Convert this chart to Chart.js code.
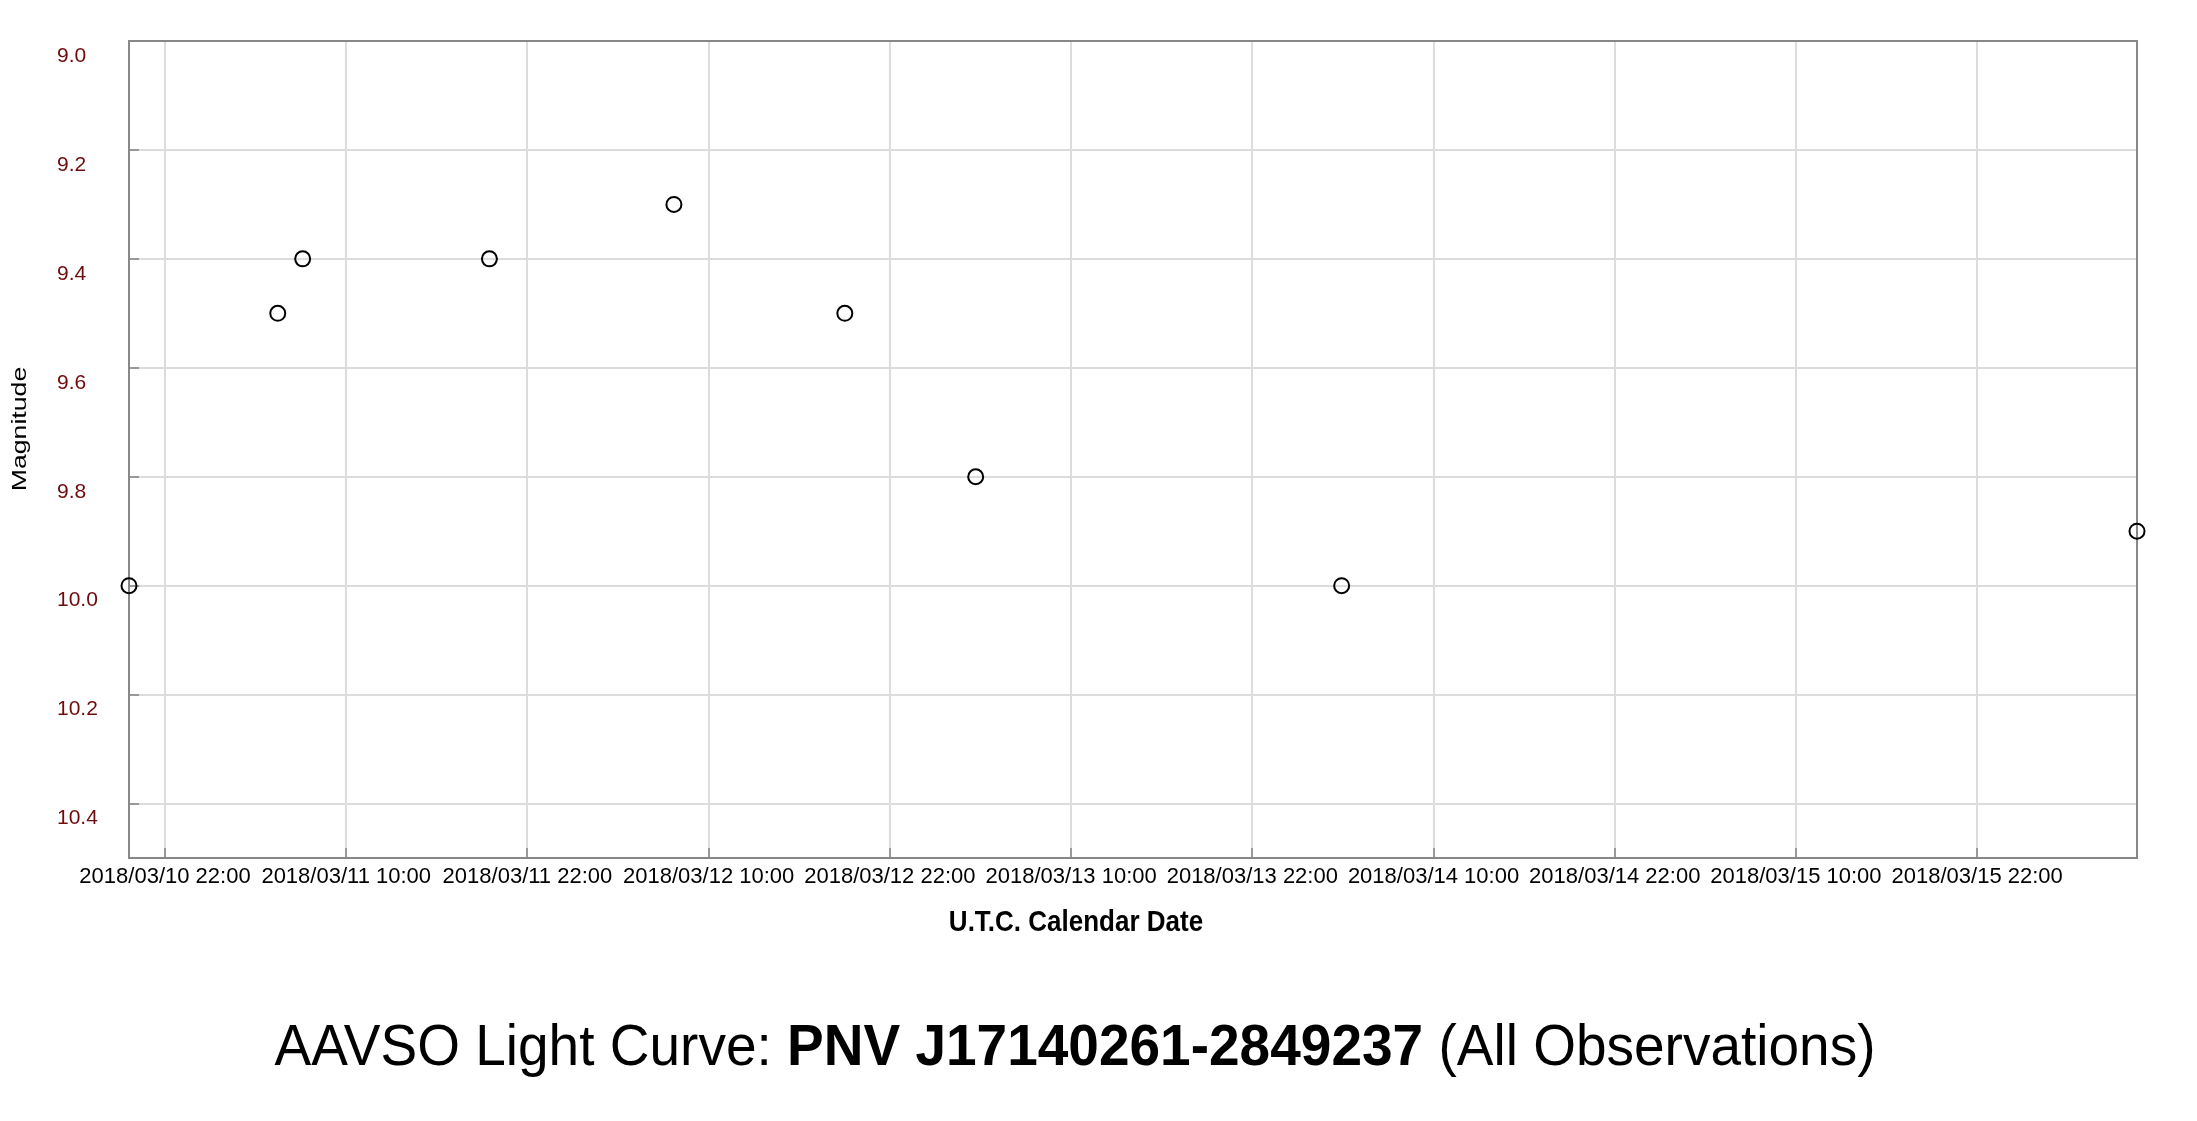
<!DOCTYPE html>
<html>
<head>
<meta charset="utf-8">
<title>AAVSO Light Curve</title>
<script src="https://cdn.jsdelivr.net/npm/chart.js@4.4.1/dist/chart.umd.min.js"></script>
<style>
  body { margin: 0; background: #fff; }
  #wrap { position: relative; width: 2197px; height: 1121px; }
</style>
</head>
<body>
<div id="wrap"><canvas id="myChart"></canvas></div>
<script>
var obsDates = [
  '2018-03-10T19:37:00Z',
  '2018-03-11T05:28:00Z',
  '2018-03-11T07:07:00Z',
  '2018-03-11T19:29:00Z',
  '2018-03-12T07:42:00Z',
  '2018-03-12T19:01:00Z',
  '2018-03-13T03:41:00Z',
  '2018-03-14T03:55:00Z',
  '2018-03-16T08:35:00Z'
];
var magnitudes = [10.0, 9.5, 9.4, 9.4, 9.3, 9.5, 9.8, 10.0, 9.9];

// tick positions
var xTickDates = [
  '2018-03-10T22:00:00Z', '2018-03-11T10:00:00Z', '2018-03-11T22:00:00Z',
  '2018-03-12T10:00:00Z', '2018-03-12T22:00:00Z', '2018-03-13T10:00:00Z',
  '2018-03-13T22:00:00Z', '2018-03-14T10:00:00Z', '2018-03-14T22:00:00Z',
  '2018-03-15T10:00:00Z', '2018-03-15T22:00:00Z'
];
var yTicks = [9.0, 9.2, 9.4, 9.6, 9.8, 10.0, 10.2, 10.4];

var starName = 'PNV J17140261-2849237';

function fmtDate(ms) { // 2018/03/10 22:00 style, in UTC
  var d = new Date(ms);
  function p(n) { return (n < 10 ? '0' : '') + n; }
  return d.getUTCFullYear() + '/' + p(d.getUTCMonth() + 1) + '/' + p(d.getUTCDate()) +
    ' ' + p(d.getUTCHours()) + ':' + p(d.getUTCMinutes());
}

var points = [];
for (var i = 0; i < obsDates.length; i++) {
  points.push({ x: Date.parse(obsDates[i]), y: magnitudes[i] });
}

var FONT = '"Liberation Sans", Arial, sans-serif';

var captions = {
  id: 'captions',
  beforeDatasetsDraw: function (chart) { // gray frame round the plot
    var a = chart.chartArea, ctx = chart.ctx;
    ctx.save();
    ctx.strokeStyle = '#888';
    ctx.lineWidth = 2;
    ctx.strokeRect(a.left, a.top, a.right - a.left, a.bottom - a.top);
    ctx.restore();
  },
  afterDraw: function (chart) {
    var ctx = chart.ctx;
    ctx.save();
    ctx.fillStyle = '#000';
    ctx.textBaseline = 'alphabetic';

    // y axis title (the original text is a bit stretched)
    ctx.save();
    ctx.translate(26, 429);
    ctx.rotate(-Math.PI / 2);
    ctx.scale(1.27, 1);
    ctx.font = '21px ' + FONT;
    ctx.textAlign = 'center';
    ctx.fillText('Magnitude', 0, 0);
    ctx.restore();

    // x axis title
    ctx.save();
    ctx.translate(1076, 931);
    ctx.scale(1, 1.15);
    ctx.font = 'bold 26px ' + FONT;
    ctx.textAlign = 'center';
    ctx.fillText('U.T.C. Calendar Date', 0, 0);
    ctx.restore();

    // main title, star name in bold
    var parts = [
      ['', 'AAVSO Light Curve: '],
      ['bold ', starName],
      ['', ' (All Observations)']
    ];
    var total = 0;
    parts.forEach(function (pt) {
      ctx.font = pt[0] + '55px ' + FONT;
      pt.push(ctx.measureText(pt[1]).width);
      total += pt[2];
    });
    var x = 1075 - total / 2;
    ctx.textAlign = 'left';
    parts.forEach(function (pt) {
      ctx.save();
      ctx.translate(x, 1065);
      ctx.scale(1, 1.06);
      ctx.font = pt[0] + '55px ' + FONT;
      ctx.fillText(pt[1], 0, 0);
      ctx.restore();
      x += pt[2];
    });
    ctx.restore();
  }
};

var ctx = document.getElementById('myChart').getContext('2d');
var myChart = new Chart(ctx, {
  type: 'scatter',
  data: {
    datasets: [{
      label: starName,
      data: points,
      pointStyle: 'circle',
      pointRadius: 7.5,
      pointHoverRadius: 7.5,
      pointBorderWidth: 2,
      borderColor: '#000',
      backgroundColor: 'rgba(0,0,0,0)',
      clip: false
    }]
  },
  options: {
    responsive: true,
    maintainAspectRatio: false,
    animation: false,
    layout: { padding: { left: 57, right: 60, top: 41, bottom: 223 } },
    plugins: {
      legend: { display: false },
      tooltip: { enabled: false }
    },
    scales: {
      x: {
        type: 'linear',
        position: 'bottom',
        min: Date.parse(obsDates[0]),
        max: Date.parse(obsDates[obsDates.length - 1]),
        afterBuildTicks: function (scale) {
          scale.ticks = xTickDates.map(function (d) { return { value: Date.parse(d) }; });
        },
        afterFit: function (scale) { scale.height = 40; },
        ticks: {
          callback: function (v) { return fmtDate(v); },
          color: '#000',
          font: { family: FONT, size: 22 },
          padding: 16,
          autoSkip: false,
          maxRotation: 0,
          minRotation: 0
        },
        grid: { color: '#dcdcdc', lineWidth: 2, tickLength: -10, tickColor: '#999', tickWidth: 2 },
        border: { color: '#888', width: 2 }
      },
      y: {
        type: 'linear',
        reverse: true,
        min: 9.0,
        max: 10.5,
        afterBuildTicks: function (scale) {
          scale.ticks = yTicks.map(function (v) { return { value: v }; });
        },
        afterFit: function (scale) { scale.width = 72; },
        ticks: {
          callback: function (v) { return v.toFixed(1); },
          color: '#6e0b0b',
          font: { family: FONT, size: 21 },
          crossAlign: 'far',
          labelOffset: 15
        },
        grid: { color: '#dcdcdc', lineWidth: 2, tickLength: -10, tickColor: '#999', tickWidth: 2 },
        border: { color: '#888', width: 2 }
      }
    }
  },
  plugins: [captions]
});
</script>
</body>
</html>
